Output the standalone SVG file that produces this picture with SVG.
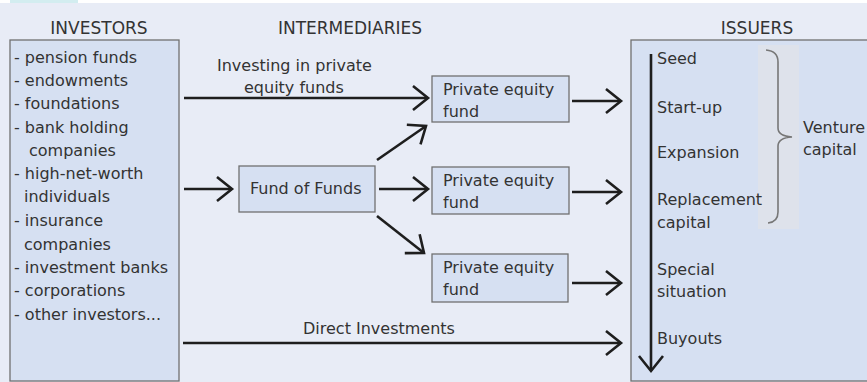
<svg xmlns="http://www.w3.org/2000/svg" width="867" height="382" viewBox="0 0 867 382">
<defs>
<style>
.t{font-family:"DejaVu Sans","Liberation Sans",sans-serif;font-size:16px;fill:#333}
.h{font-family:"DejaVu Sans","Liberation Sans",sans-serif;font-size:17px;fill:#333;text-anchor:middle}
.box{fill:#d6e0f2;stroke:#707070;stroke-width:1.3}
.ar{stroke:#1e1e1e;stroke-width:2.6;fill:none;marker-end:url(#ah)}
</style>
<marker id="ah" markerUnits="userSpaceOnUse" markerWidth="40" markerHeight="40" viewBox="-20 -20 40 40" refX="0" refY="0" orient="auto" overflow="visible">
<path d="M-15,-12 L0,0 L-15,12" fill="none" stroke="#1e1e1e" stroke-width="2.6" stroke-linejoin="miter"/>
</marker>
</defs>
<rect x="0" y="0" width="867" height="382" fill="#ffffff"/>
<rect x="0" y="3" width="867" height="379" fill="#e8ecf6"/>
<rect x="10" y="0" width="68" height="3" fill="#d3edf0"/>

<text class="h" x="99" y="34">INVESTORS</text>
<text class="h" x="350" y="34">INTERMEDIARIES</text>
<text class="h" x="757" y="34">ISSUERS</text>

<g id="investors">
<rect class="box" x="10" y="40" width="169" height="341"/>
<text class="t" x="14" y="63">- pension funds</text>
<text class="t" x="14" y="86">- endowments</text>
<text class="t" x="14" y="109">- foundations</text>
<text class="t" x="14" y="133">- bank holding</text>
<text class="t" x="29" y="156">companies</text>
<text class="t" x="14" y="179">- high-net-worth</text>
<text class="t" x="24" y="202">individuals</text>
<text class="t" x="14" y="226">- insurance</text>
<text class="t" x="24" y="250">companies</text>
<text class="t" x="14" y="273">- investment banks</text>
<text class="t" x="14" y="296">- corporations</text>
<text class="t" x="14" y="320">- other investors...</text>
</g>

<g id="issuers">
<rect class="box" x="631" y="40" width="250" height="341"/>
<rect x="758" y="45" width="41" height="184" fill="#dee2eb"/>
<text class="t" x="657" y="64">Seed</text>
<text class="t" x="657" y="113">Start-up</text>
<text class="t" x="657" y="158">Expansion</text>
<text class="t" x="657" y="205">Replacement</text>
<text class="t" x="657" y="228">capital</text>
<text class="t" x="657" y="275">Special</text>
<text class="t" x="657" y="297">situation</text>
<text class="t" x="657" y="344">Buyouts</text>
<path d="M766,50 Q778,51 778,62 L778,128 Q778,136 792,137 Q778,138 778,146 L778,212 Q778,222 768,223" fill="none" stroke="#777" stroke-width="1.6"/>
<text class="t" x="803" y="133">Venture</text>
<text class="t" x="803" y="155">capital</text>
</g>

<g id="fof">
<rect class="box" x="239" y="166" width="136" height="46"/>
<text class="t" x="250" y="194">Fund of Funds</text>
</g>
<g id="pe1">
<rect class="box" x="432" y="76" width="137" height="46"/>
<text class="t" x="443" y="95">Private equity</text>
<text class="t" x="443" y="117">fund</text>
</g>
<g id="pe2">
<rect class="box" x="432" y="167" width="137" height="47"/>
<text class="t" x="443" y="186">Private equity</text>
<text class="t" x="443" y="208">fund</text>
</g>
<g id="pe3">
<rect class="box" x="432" y="254" width="136" height="48"/>
<text class="t" x="443" y="273">Private equity</text>
<text class="t" x="443" y="295">fund</text>
</g>

<g id="connectors">
<line class="ar" x1="184" y1="98" x2="428" y2="98"/>
<text class="t" x="217" y="71">Investing in private</text>
<text class="t" x="244" y="93">equity funds</text>
<line class="ar" x1="184" y1="189" x2="232" y2="189"/>
<line class="ar" x1="377" y1="160" x2="426" y2="126"/>
<line class="ar" x1="379" y1="189" x2="428" y2="189"/>
<line class="ar" x1="377" y1="216" x2="424" y2="253"/>
<line class="ar" x1="572" y1="101" x2="621" y2="101"/>
<line class="ar" x1="572" y1="192" x2="621" y2="192"/>
<line class="ar" x1="572" y1="283" x2="621" y2="283"/>
<line class="ar" x1="183" y1="343" x2="621" y2="343"/>
<text class="t" x="303" y="334">Direct Investments</text>
<line class="ar" x1="651" y1="54" x2="651" y2="371"/>
</g>
</svg>
